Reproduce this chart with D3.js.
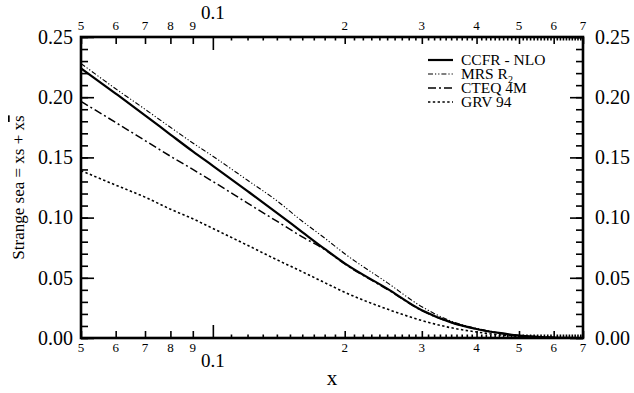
<!DOCTYPE html>
<html>
<head>
<meta charset="utf-8">
<script src="https://cdn.jsdelivr.net/npm/d3@7"></script>
<style>
  html, body { margin: 0; padding: 0; background: #fff; }
</style>
</head>
<body>
<svg id="chart" width="634" height="393"></svg>
<script>
// Bjorken x sample points
const xs = [0.05, 0.06, 0.07, 0.08, 0.09, 0.10, 0.12, 0.14, 0.16, 0.18, 0.20,
            0.25, 0.30, 0.35, 0.40, 0.45, 0.50, 0.55, 0.60, 0.65, 0.70];

// strange sea xs + xs-bar for each parametrisation
const ccfr = [0.224, 0.203, 0.185, 0.169, 0.155, 0.143, 0.122, 0.104, 0.088, 0.074, 0.062,
              0.041, 0.023, 0.013, 0.0075, 0.0042, 0.002, 0.001, 0.0004, 0.0001, 0.0];
const mrs  = [0.228, 0.207, 0.190, 0.175, 0.162, 0.151, 0.131, 0.114, 0.097, 0.083, 0.070,
              0.046, 0.026, 0.014, 0.008, 0.0043, 0.002, 0.001, 0.0004, 0.0001, 0.0];
const cteq = [0.1965, 0.179, 0.164, 0.151, 0.140, 0.130, 0.112, 0.097, 0.084, 0.0735, 0.0615,
              0.0405, 0.0228, 0.0129, 0.0074, 0.0041, 0.002, 0.001, 0.0004, 0.0001, 0.0];
const grv  = [0.139, 0.127, 0.117, 0.107, 0.099, 0.091, 0.077, 0.065, 0.055, 0.046, 0.038,
              0.024, 0.0145, 0.0085, 0.005, 0.0027, 0.0014, 0.0007, 0.0003, 0.0001, 0.0];

const seriesNames = ["CCFR - NLO", "MRS R", "CTEQ 4M", "GRV 94"];

// axis ticks
const yTicks = [0.00, 0.05, 0.10, 0.15, 0.20, 0.25];
const yTickLabels = ["0.00", "0.05", "0.10", "0.15", "0.20", "0.25"];
const xDigitTicks = [0.05, 0.06, 0.07, 0.08, 0.09, 0.2, 0.3, 0.4, 0.5, 0.6, 0.7];
const xDigitLabels = ["5", "6", "7", "8", "9", "2", "3", "4", "5", "6", "7"];
const xDecadeTicks = [0.1];
const xDecadeLabels = ["0.1"];

const FONT = "Liberation Serif";
const svg = d3.select("#chart");
const L = 81, R = 583, T = 37, B = 338;

const x = d3.scaleLog().domain([0.05, 0.7]).range([L, R]);
const y = d3.scaleLinear().domain([0, 0.25]).range([B, T]);

// minor ticks every 0.01 above 0.1
const xMinor = d3.range(11, 70).map(d => d / 100).filter(d => Math.abs(d * 10 - Math.round(d * 10)) > 1e-6);
const yMinor = d3.range(0, 26).map(d => d / 100);

const g = svg.append("g");

// curves
const curve = d3.line().x((d, i) => x(xs[i])).y(d => y(d)).curve(d3.curveMonotoneX);
const styles = [
  { data: ccfr, w: 2.2, dash: null },
  { data: mrs,  w: 1.1, dash: "5,2,1.2,2,1.2,2" },
  { data: cteq, w: 1.5, dash: "8,3,2,3" },
  { data: grv,  w: 1.6, dash: "2.4,2.4" }
];
svg.append("clipPath").attr("id", "plotclip")
  .append("rect").attr("x", L).attr("y", T).attr("width", R - L).attr("height", B - T);
g.append("g").attr("clip-path", "url(#plotclip)")
  .selectAll("path").data(styles).join("path")
  .attr("d", s => curve(s.data))
  .attr("fill", "none").attr("stroke", "#000")
  .attr("stroke-width", s => s.w)
  .attr("stroke-dasharray", s => s.dash);

// y axes (ticks point into the plot)
g.append("g").attr("transform", `translate(${L},0)`)
  .call(d3.axisRight(y).tickValues(yMinor).tickSize(7).tickFormat(""));
g.append("g").attr("transform", `translate(${R},0)`)
  .call(d3.axisLeft(y).tickValues(yMinor).tickSize(7).tickFormat(""));
g.append("g").attr("transform", `translate(${L},0)`)
  .call(d3.axisRight(y).tickValues(yTicks).tickSize(13).tickFormat(""));
g.append("g").attr("transform", `translate(${R},0)`)
  .call(d3.axisLeft(y).tickValues(yTicks).tickSize(13).tickFormat(""));

// x axes, bottom and top
function xTicks(sel, vals, size, dir) {
  const ax = dir > 0 ? d3.axisTop(x) : d3.axisBottom(x);
  sel.call(ax.tickValues(vals).tickSize(size).tickFormat(""));
}
[[B, 1], [T, -1]].forEach(([pos, dir]) => {
  const a = g.append("g").attr("transform", `translate(0,${pos})`);
  a.append("g").call(xTicks, xMinor, 3.5, dir);
  a.append("g").call(xTicks, xDigitTicks, 7, dir);
  a.append("g").call(xTicks, xDecadeTicks, 13, dir);
});
g.selectAll(".domain").remove();
g.selectAll(".tick line").attr("stroke", "#000").attr("stroke-width", 1.6);

// frame
g.append("rect").attr("x", L).attr("y", T).attr("width", R - L).attr("height", B - T)
  .attr("fill", "none").attr("stroke", "#000").attr("stroke-width", 2.6);

// y tick labels on both sides
svg.append("g").selectAll("text").data(yTicks).join("text")
  .attr("x", 73).attr("y", d => y(d)).attr("dy", "0.34em")
  .attr("text-anchor", "end").attr("font-size", 20)
  .text((d, i) => yTickLabels[i]);
svg.append("g").selectAll("text").data(yTicks).join("text")
  .attr("x", 595).attr("y", d => y(d)).attr("dy", "0.34em")
  .attr("text-anchor", "start").attr("font-size", 20)
  .text((d, i) => yTickLabels[i]);

// x tick labels, bottom and top
[[352, 367], [29.5, 18.5]].forEach(([digitY, decadeY]) => {
  svg.append("g").selectAll("text").data(xDigitTicks).join("text")
    .attr("x", d => x(d)).attr("y", digitY)
    .attr("text-anchor", "middle").attr("font-size", 13)
    .text((d, i) => xDigitLabels[i]);
  svg.append("g").selectAll("text").data(xDecadeTicks).join("text")
    .attr("x", d => x(d)).attr("y", decadeY)
    .attr("text-anchor", "middle").attr("font-size", 19)
    .text((d, i) => xDecadeLabels[i]);
});

// axis titles
svg.append("text").attr("x", (L + R) / 2).attr("y", 385)
  .attr("text-anchor", "middle").attr("font-size", 21).text("x");
const yt = svg.append("text")
  .attr("transform", `translate(24,${(T + B) / 2}) rotate(-90)`)
  .attr("text-anchor", "middle").attr("font-size", 17);
yt.append("tspan").text("Strange sea = xs + x");
yt.append("tspan").style("text-decoration", "overline").text("s");

// legend
const lg = svg.append("g");
const rowY = [60, 74, 88, 102];
styles.forEach((s, i) => {
  lg.append("line").attr("x1", 428).attr("x2", 453).attr("y1", rowY[i]).attr("y2", rowY[i])
    .attr("stroke", "#000").attr("stroke-width", s.w).attr("stroke-dasharray", s.dash);
  const t = lg.append("text").attr("x", 461).attr("y", rowY[i]).attr("dy", "0.35em")
    .attr("font-size", 15.5).text(seriesNames[i]);
  if (i === 1) t.append("tspan").attr("font-size", 10).attr("dy", 3.5).text("2");
});

// serif face for every label
svg.selectAll("text").style("font-family", FONT).attr("fill", "#000");
</script>
</body>
</html>
